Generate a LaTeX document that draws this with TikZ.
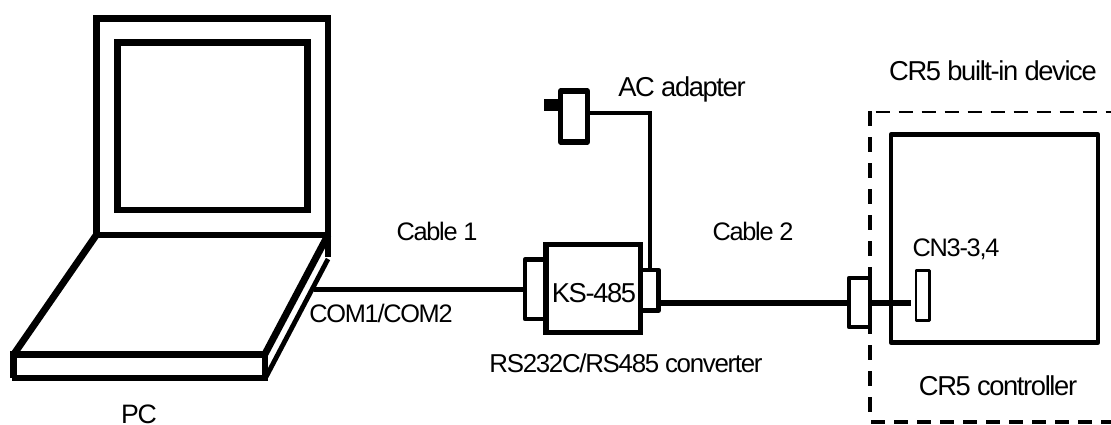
\documentclass[tikz,border=0pt]{standalone}
\usepackage{fontspec}
\setmainfont[LetterSpace=-5]{Liberation Sans}
\newlength{\pxu}\setlength{\pxu}{0.75pt}
\tikzset{
  x=0.75pt,y=-0.75pt,
  lbl/.style={anchor=base,inner sep=0pt,outer sep=0pt,font=\fontsize{19pt}{22pt}\selectfont},
  lblbig/.style={lbl,font=\fontsize{20.5pt}{24pt}\selectfont},
  boxn/.style={draw,rectangle,inner sep=0pt,outer sep=0pt,line join=round,fill=white},
  wh/.style 2 args={minimum width=#1*\pxu,minimum height=#2*\pxu},
  pcline/.style={line width=5.2pt,line cap=butt,line join=miter},
  dashh/.style={dash pattern=on 10.6pt off 6.65pt},
  dashv/.style={dash pattern=on 11.25pt off 8.25pt},
}
\begin{document}
\begin{tikzpicture}
\useasboundingbox (0,0) rectangle (1111,425);
% laptop
\draw[pcline] (96.3,18.7) rectangle (328,235);
\draw[pcline] (117.3,42.8) rectangle (307.3,210);
\draw[pcline] (96.3,235) -- (14,354);
\draw[pcline] (328,235) -- (265,354);
\draw[pcline] (328,233) -- (328,257);
\draw[pcline] (10,354.7) -- (268,354.7);
\draw[pcline] (13.7,352) -- (13.7,378);
\draw[pcline] (12,378) -- (265,378);
\draw[pcline] (265,352) -- (265,381);
\draw[line width=3.6pt] (328,259) -- (266,377);
\coordinate (pcport) at (314,289.5);
% converter
\node[boxn,line width=3.4pt,wh={20.8}{59.3}] (lconn) at (535.4,289.4) {};
\node[boxn,line width=3.4pt,wh={18.3}{40.7}] (rconn) at (649.2,290.4) {};
\node[boxn,line width=4pt,line join=miter,wh={94.7}{88.2}] (ks) at (593.2,288.6) {};
\node[lblbig] (kstext) at (594,302) {KS-485};
\draw[line width=4pt] (pcport) -- (lconn.west |- pcport);
% adapter
\node[draw,fill=black,rectangle,inner sep=0pt,outer sep=0pt,wh={14}{10.5}] (prong) at (551,104.7) {};
\node[boxn,line width=3.9pt,wh={26.6}{51}] (adapter) at (574,116.5) {};
\coordinate (wirecorner) at (650,113);
\draw[line width=2.5pt,line join=miter] (adapter.east |- wirecorner) -- (wirecorner) -- (wirecorner |- rconn.north);
% controller
\coordinate (dtl) at (870,111);
\coordinate (dbl) at (870,414);
\coordinate (dts) at (875.7,112);
\coordinate (dtr) at (1111,112);
\coordinate (dbs) at (871,421.7);
\coordinate (dbr) at (1111,421.7);
\draw[line width=3pt,dashv] (dtl) -- (dbl);
\draw[line width=1.6pt,dashh] (dts) -- (dtr);
\draw[line width=3pt,dashh] (dbs) -- (dbr);
\node[draw,rectangle,inner sep=0pt,outer sep=0pt,line join=round,line width=3.4pt,wh={207}{208}] (ctrl) at (994.5,238.5) {};
\node[boxn,line width=3.5pt,wh={21}{49}] (outer) at (859.5,302.5) {};
\node[boxn,line width=2pt,wh={13.5}{49.8}] (cn) at (922.8,295.6) {};
\coordinate (c2a) at (660,303);
\draw[line width=4.5pt] (rconn.east |- c2a) -- (outer.west |- c2a);
\draw[line width=4.5pt] (outer.east |- c2a) -- ([xshift=-4]cn.west |- c2a);
% labels
\node[lblbig] (ac) at (682,96) {AC adapter};
\node[lblbig] (dev) at (993,80) {CR5 built-in device};
\node[lbl] (c1) at (437,240) {Cable 1};
\node[lbl] (c2) at (753,240) {Cable 2};
\node[lbl] (com) at (381,322) {COM1/COM2};
\node[lbl,font=\fontsize{19.4pt}{22pt}\selectfont] (conv) at (626,372) {RS232C/RS485 converter};
\node[lbl,font=\fontsize{20pt}{22pt}\selectfont] (pc) at (139,423) {PC};
\node[lbl] (cnt) at (956,256) {CN3-3,4};
\node[lblbig] (ctl) at (998,395) {CR5 controller};
\end{tikzpicture}
\end{document}
